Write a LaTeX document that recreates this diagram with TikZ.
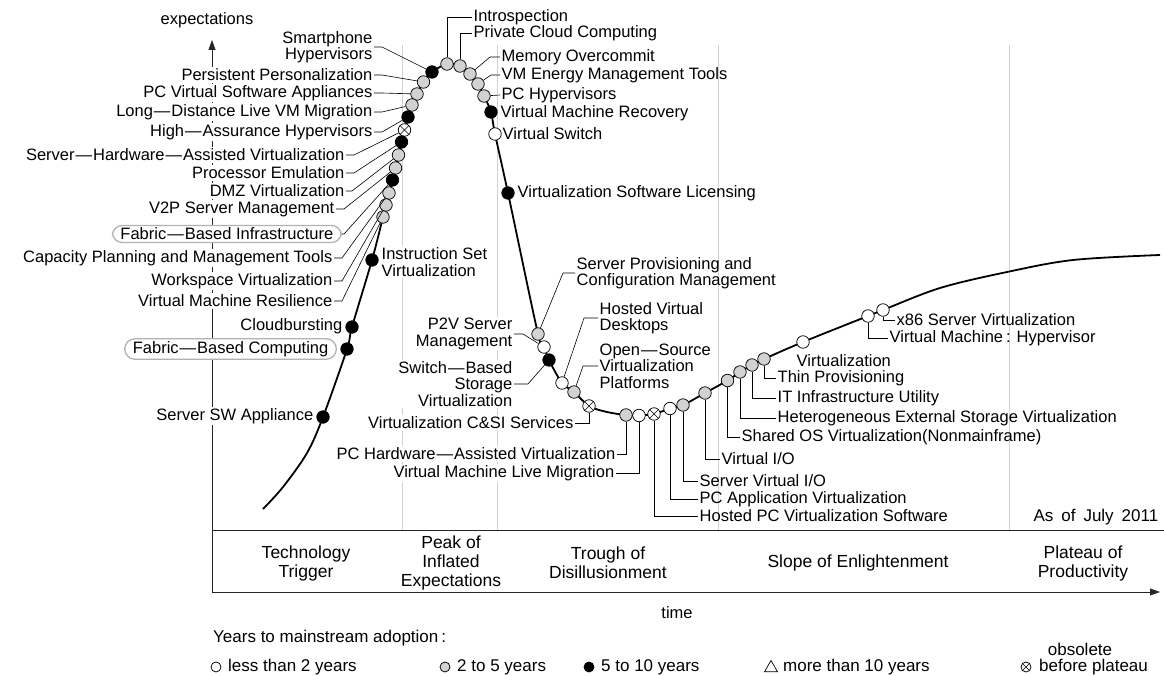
\documentclass[tikz,border=0pt]{standalone}
\usepackage{fontspec}
\setmainfont{Liberation Sans}
\usetikzlibrary{arrows.meta,shapes.geometric}
\newcommand{\hy}{\kern1pt---\kern1pt}
\tikzset{
  dot/.style={circle, draw, line width=0.75pt, minimum size=12.5pt, inner sep=0pt},
  dotw/.style={dot, fill=white},
  dotg/.style={dot, fill=gray!35},
  dotb/.style={dot, fill=black},
  dotx/.style={dot, fill=white, path picture={
      \draw[line width=0.6pt] (path picture bounding box.south west) -- (path picture bounding box.north east)
                              (path picture bounding box.north west) -- (path picture bounding box.south east);}},
  lab/.style={inner sep=1.5pt, font=\fontsize{16.5}{16.5}\selectfont},
  labl/.style={lab, anchor=east, align=right, fill=white},
  labr/.style={lab, anchor=west, align=left},
  hilite/.style={labl, draw=gray!60, line width=1.3pt, rounded corners=10pt, inner xsep=8pt, inner ysep=2.5pt},
  leader/.style={line width=0.6pt},
  axis/.style={line width=0.8pt, black!85},
  phasesep/.style={line width=1pt, gray!35},
  phase/.style={align=center, font=\fontsize{17.5}{19}\selectfont},
  key/.style={anchor=west, inner sep=1pt, font=\fontsize{17}{17}\selectfont},
}
\begin{document}
\begin{tikzpicture}[x=1pt,y=-1pt]
  \useasboundingbox (0,0) rectangle (1164,676);

  %% ---------- axes and phases ----------
  \coordinate (org)  at (212,592);
  \coordinate (ytop) at (212,40);
  \coordinate (xend) at (1160,592);
  \coordinate (bandL) at (212,530);
  \coordinate (bandR) at (1164,530);
  \draw[axis, -{Triangle[length=10pt,width=7pt]}] (org) -- (ytop);
  \draw[axis, -{Triangle[length=10pt,width=7pt]}] (org) -- (xend);
  \draw[axis] (bandL) -- (bandR);
  \foreach \x in {402,497,718,1009}
    \draw[phasesep] (\x,45) -- (\x,530);

  \node[lab] (expec) at (207,20) {expectations};
  \node[lab] (time) at (677,613) {time};
  \node[lab, anchor=east, font=\fontsize{17}{17}\selectfont] (asof) at (1160,517)
    {As\kern8pt of\kern8pt July\kern8pt 2011};

  \node[phase] (phTrig)  at (306,563) {Technology\\Trigger};
  \node[phase] (phPeak)  at (451,563) {Peak of\\Inflated\\Expectations};
  \node[phase] (phTrou)  at (608,563) {Trough of\\Disillusionment};
  \node[phase] (phSlope) at (858,563) {Slope of Enlightenment};
  \node[phase] (phPlat)  at (1083,563) {Plateau of\\Productivity};

  %% ---------- labels, left of the rise ----------
  \node[labl] (tSmart) at (374,47)  {Smartphone\\Hypervisors};
  \node[labl] (tPers)  at (374,75)  {Persistent Personalization};
  \node[labl] (tPcva)  at (374,93)  {PC Virtual Software Appliances};
  \node[labl] (tLdm)   at (374,112) {Long\hy Distance Live VM Migration};
  \node[labl] (tHah)   at (374,132) {High\hy Assurance Hypervisors};
  \node[labl] (tShv)   at (346,155) {Server\hy Hardware\hy Assisted Virtualization};
  \node[labl] (tProc)  at (346,173) {Processor Emulation};
  \node[labl] (tDmz)   at (346,191) {DMZ Virtualization};
  \node[labl] (tV2p)   at (336,209) {V2P Server Management};
  \node[hilite] (tFbi) at (342,234) {Fabric\hy Based Infrastructure};
  \node[labl] (tCap)   at (334,258) {Capacity Planning and Management Tools};
  \node[labl] (tWks)   at (334,281) {Workspace Virtualization};
  \node[labl] (tVmr)   at (334,301) {Virtual Machine Resilience};
  \node[labl] (tCloud) at (344,326) {Cloudbursting};
  \node[hilite] (tFbc) at (337,349) {Fabric\hy Based Computing};
  \node[labl] (tSsw)   at (315,416) {Server SW Appliance};
  \node[labr, fill=white] (tIsv) at (380,262) {Instruction Set\\Virtualization};

  %% ---------- labels round the peak ----------
  \node[labr] (tIntro) at (472,17)  {Introspection};
  \node[labr] (tPcc)   at (472,33)  {Private Cloud Computing};
  \node[labr] (tMem)   at (500,57)  {Memory Overcommit};
  \node[labr] (tVme)   at (500,75)  {VM Energy Management Tools};
  \node[labr] (tPch)   at (500,95)  {PC Hypervisors};
  \node[labr] (tVmrec) at (499,113) {Virtual Machine Recovery};
  \node[labr] (tVsw)   at (501,134) {Virtual Switch};
  \node[labr] (tVsl)   at (516,193) {Virtualization Software Licensing};

  %% ---------- labels round the trough ----------
  \node[labr] (tSpc)  at (575,273) {Server Provisioning and\\Configuration Management};
  \node[labl] (tP2v)  at (514,334) {P2V Server\\Management};
  \node[labl] (tSbs)  at (514,384) {Switch\hy Based\\Storage\\Virtualization};
  \node[labr] (tHvd)  at (598,318) {Hosted Virtual\\Desktops};
  \node[labr] (tOsv)  at (598,366) {Open\hy Source\\Virtualization\\Platforms};
  \node[labl] (tCsi)  at (575,423) {Virtualization C\&SI Services};
  \node[labl] (tPha)  at (617,454) {PC Hardware\hy Assisted Virtualization};
  \node[labl] (tVml)  at (616,473) {Virtual Machine Live Migration};
  \node[labr] (tHpc)  at (698,516) {Hosted PC Virtualization Software};
  \node[labr] (tPca)  at (698,499) {PC Application Virtualization};
  \node[labr] (tSvio) at (698,481) {Server Virtual I/O};
  \node[labr] (tVio)  at (720,459) {Virtual I/O};
  \node[labr] (tShos) at (740,437) {Shared OS Virtualization(Nonmainframe)};
  \node[labr] (tHes)  at (776,418) {Heterogeneous External Storage Virtualization};
  \node[labr] (tItu)  at (776,398) {IT Infrastructure Utility};
  \node[labr] (tThin) at (776,378) {Thin Provisioning};
  \node[labr] (tVirt) at (795,361) {Virtualization};
  \node[labr] (tVmh)  at (888,338) {Virtual Machine\kern3pt:\kern6pt Hypervisor};
  \node[labr] (tX86)  at (895,320) {x86 Server Virtualization};

  %% ---------- hype curve ----------
  \draw[line width=1.8pt] plot[smooth, tension=0.55] coordinates {
    (263,509) (283,487) (307,453) (323,417) (347,349) (352,327) (372,260) (383,217)
    (386,205) (389,193) (392.5,180) (395.5,168) (398.5,155) (401.5,142)
    (404.5,130) (408,117) (412,105) (417,94) (423.5,82) (432,72) (447,64)
    (460,66) (470,74) (478,84) (484,96) (491,112) (495,134) (508,193)
    (538,334) (544,347) (549,360) (562,383) (574,392) (589,406) (607,412)
    (626,415) (639,415.5) (654,414) (670,408.5) (683,405) (705,393) (727.5,380.5)
    (740,372) (752,365) (764,359) (803,342) (868,316) (883,310) (940,288)
    (1007,272) (1073,260) (1160,255)};

  %% ---------- technologies on the curve ----------
  \node[dotb] (pSmart) at (432,72)    {};
  \node[dotg] (pPers)  at (423.5,82)  {};
  \node[dotg] (pPcva)  at (417,94)    {};
  \node[dotg] (pLdm)   at (412,105)   {};
  \node[dotb] (pHah)   at (408,117)   {};
  \node[dotx] (pShv)   at (404.5,130) {};
  \node[dotb] (pProc)  at (401.5,142) {};
  \node[dotg] (pDmz)   at (398.5,155) {};
  \node[dotg] (pV2p)   at (395.5,168) {};
  \node[dotb] (pFbi)   at (392.5,180) {};
  \node[dotg] (pCap)   at (389,193)   {};
  \node[dotg] (pWks)   at (386,205)   {};
  \node[dotg] (pVmr)   at (383,217)   {};
  \node[dotb] (pIsv)   at (372,260)   {};
  \node[dotb] (pCloud) at (352,327)   {};
  \node[dotb] (pFbc)   at (347,349)   {};
  \node[dotb] (pSsw)   at (323,417)   {};

  \node[dotg] (pIntro) at (447,64)  {};
  \node[dotg] (pPcc)   at (460,66)  {};
  \node[dotg] (pMem)   at (470,74)  {};
  \node[dotg] (pVme)   at (478,84)  {};
  \node[dotg] (pPch)   at (484,96)  {};
  \node[dotb] (pVmrec) at (491,112) {};
  \node[dotw] (pVsw)   at (495,134) {};
  \node[dotb] (pVsl)   at (508,193) {};

  \node[dotg] (pSpc)  at (538,334)   {};
  \node[dotw] (pP2v)  at (544,347)   {};
  \node[dotb] (pSbs)  at (549,360)   {};
  \node[dotw] (pHvd)  at (562,383)   {};
  \node[dotg] (pOsv)  at (574,392)   {};
  \node[dotx] (pCsi)  at (589,406)   {};
  \node[dotg] (pPha)  at (626,415)   {};
  \node[dotw] (pVml)  at (639,415.5) {};
  \node[dotx] (pHpc)  at (654,414)   {};
  \node[dotw] (pPca)  at (670,408.5) {};
  \node[dotg] (pSvio) at (683,405)   {};
  \node[dotg] (pVio)  at (705,393)   {};
  \node[dotg] (pShos) at (727.5,380.5) {};
  \node[dotg] (pHes)  at (740,372)   {};
  \node[dotg] (pItu)  at (752,365)   {};
  \node[dotg] (pThin) at (764,359)   {};
  \node[dotw] (pVirt) at (803,342)   {};
  \node[dotw] (pVmh)  at (868,316)   {};
  \node[dotw] (pX86)  at (883,310)   {};

  %% ---------- leader lines ----------
  \draw[leader] (tSmart.east) -- ++(8,0) -- (pSmart);
  \draw[leader] (tPers.east)  -- ++(8,0) -- (pPers);
  \draw[leader] (tPcva.east)  -- ++(8,0) -- (pPcva);
  \draw[leader] (tLdm.east)   -- ++(8,0) -- (pLdm);
  \draw[leader] (tHah.east)   -- ++(8,0) -- (pHah);
  \draw[leader] (tShv.east)   -- ++(8,0) -- (pShv);
  \draw[leader] (tProc.east)  -- ++(8,0) -- (pProc);
  \draw[leader] (tDmz.east)   -- ++(6,0) -- (pDmz);
  \draw[leader] (tV2p.east)   -- ++(8,0) -- (pV2p);
  \draw[leader] (tFbi.east)   -- ++(2,0) -- (pFbi);
  \draw[leader] (tCap.east)   -- ++(8,0) -- (pCap);
  \draw[leader] (tWks.east)   -- ++(8,0) -- (pWks);
  \draw[leader] (tVmr.east)   -- ++(8,0) -- (pVmr);

  \draw[leader] (pIntro.north) |- (tIntro.west);
  \draw[leader] (pPcc.north)   |- (tPcc.west);
  \draw[leader] (pMem) -- ([xshift=-10pt]tMem.west) -- (tMem.west);
  \draw[leader] (pVme) -- ([xshift=-9pt]tVme.west) -- (tVme.west);
  \draw[leader] (pPch) -- (tPch.west);

  \draw[leader] (pSpc) -- ([xshift=-12pt]tSpc.west) -- (tSpc.west);
  \draw[leader] (tP2v.east) -- ++(9,0) -- (pP2v);
  \draw[leader] (tSbs.east) -- ++(14,0) -- (pSbs);
  \draw[leader] (pHvd) -- ([xshift=-14pt]tHvd.west) -- (tHvd.west);
  \draw[leader] (pOsv) -- ([xshift=-15pt]tOsv.west) -- (tOsv.west);
  \draw[leader] (pCsi.south) |- (tCsi.east);
  \draw[leader] (pPha.south) |- (tPha.east);
  \draw[leader] (pVml.south) |- (tVml.east);
  \draw[leader] (pHpc.south) |- (tHpc.west);
  \draw[leader] (pPca.south) |- (tPca.west);
  \draw[leader] (pSvio.south) |- (tSvio.west);
  \draw[leader] (pVio.south) |- (tVio.west);
  \draw[leader] (pShos.south) |- (tShos.west);
  \draw[leader] (pHes.south) |- (tHes.west);
  \draw[leader] (pItu.south) |- (tItu.west);
  \draw[leader] (pThin.south) |- (tThin.west);
  \draw[leader] (pVmh.south) |- (tVmh.west);
  \draw[leader] (pX86.south) |- (tX86.west);

  %% ---------- legend ----------
  \node[key] (kTitle) at (212,638) {Years to mainstream adoption\kern3pt:};
  \node[dotw, minimum size=10pt] (kW) at (216,667) {};
  \node[key] (kWt) at (227,667) {less than 2 years};
  \node[dotg, minimum size=10pt] (kG) at (445,667) {};
  \node[key] (kGt) at (456,667) {2 to 5 years};
  \node[dotb, minimum size=10pt] (kB) at (589,667) {};
  \node[key] (kBt) at (600,667) {5 to 10 years};
  \node[regular polygon, regular polygon sides=3, draw, line width=0.7pt,
        minimum size=15pt, inner sep=0pt] (kT) at (771,668) {};
  \node[key] (kTt) at (782,667) {more than 10 years};
  \node[dotx, minimum size=10pt] (kX) at (1026,667) {};
  \node[key] (kXt) at (1038,667) {before plateau};
  \node[key, anchor=center] (kXo) at (1080,649) {obsolete};

\end{tikzpicture}
\end{document}
